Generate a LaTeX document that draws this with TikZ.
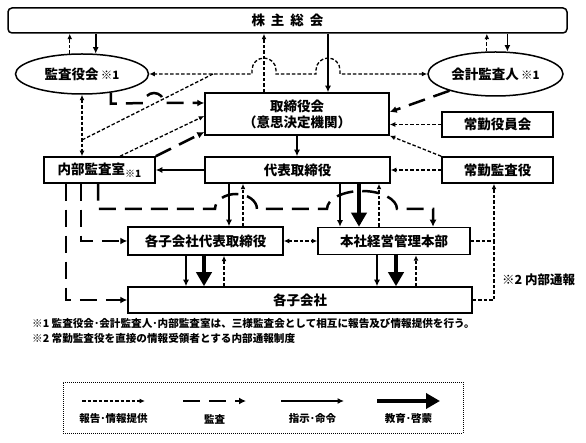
\documentclass[tikz,border=0pt]{standalone}
\usepackage{fontspec}
\setmainfont{Noto Sans CJK JP}
\usetikzlibrary{arrows.meta,shapes.geometric}

\tikzset{
  orgbox/.style={draw, line width=1.5pt, inner sep=0pt, font=\fontsize{13.5}{16}\selectfont\bfseries},
  orgoval/.style={ellipse, draw, line width=1.5pt, inner sep=0pt, font=\fontsize{13.5}{16}\selectfont\bfseries},
  reportline/.style={line width=1.3pt, dash pattern=on 3.5pt off 2pt, >={Latex[length=5.5pt,width=5pt]}, ->},
  auditline/.style={line width=2.5pt, dash pattern=on 17pt off 9pt, >={Latex[length=7pt,width=7pt]}, ->},
  orderline/.style={line width=1.6pt, >={Latex[length=6.5pt,width=6pt]}, ->},
  eduline/.style={line width=4.8pt, >={Triangle[length=14pt,width=15pt]}, ->},
  notetext/.style={anchor=west, inner sep=0pt, font=\fontsize{10.6}{12}\selectfont\bfseries}
}

\begin{document}
\begin{tikzpicture}[x=1pt,y=-1pt]
  \useasboundingbox (0,0) rectangle (586,443);

  % organisation
  \node[orgbox, rounded corners=4pt, minimum width=559pt, minimum height=25pt] (sh) at (287.5,20.5)
    {株\hspace{6pt}主\hspace{6pt}総\hspace{6pt}会};
  \node[orgoval, minimum width=133pt, minimum height=40pt] (kansa) at (82,74)
    {監査役会\,{\fontsize{11.5}{11}\selectfont ※1}};
  \node[orgoval, minimum width=135pt, minimum height=44pt] (kaikei) at (495.5,74)
    {会計監査人\,{\fontsize{11.5}{11}\selectfont ※1}};
  \node[orgbox, align=center, minimum width=184pt, minimum height=42pt] (tori) at (297,114)
    {取締役会\\（意思決定機関）};
  \node[orgbox, minimum width=111pt, minimum height=25pt] (joueki) at (497.5,124.5) {常勤役員会};
  \node[orgbox, minimum width=111pt, minimum height=26pt] (naibu) at (99.5,170)
    {内部監査室{\fontsize{10}{10}\selectfont\raisebox{-3pt}{※1}}};
  \node[orgbox, minimum width=185pt, minimum height=26pt] (daihyo) at (297.5,170) {代表取締役};
  \node[orgbox, minimum width=111pt, minimum height=26pt] (joukan) at (497.5,170) {常勤監査役};
  \node[orgbox, minimum width=155pt, minimum height=28pt] (kodai) at (205.5,241) {各子会社代表取締役};
  \node[orgbox, minimum width=152pt, minimum height=27pt] (honsha) at (394,241) {本社経営管理本部};
  \node[orgbox, minimum width=344pt, minimum height=26pt] (kogaisha) at (300,300) {各子会社};

  % shareholders
  \draw[reportline] (kansa.121) -- (kansa.121 |- sh.south);
  \draw[orderline] (kansa.56 |- sh.south) -- (kansa.56);
  \draw[reportline] (kaikei.111) -- (kaikei.111 |- sh.south);
  \draw[orderline] (kaikei.62 |- sh.south) -- (kaikei.62);
  \draw[reportline] (264,0 |- tori.north) -- (264,0 |- sh.south);
  \draw[orderline] (328,0 |- sh.south) -- (328,0 |- tori.north);

  % three-way audit
  \draw[reportline, <->] (kaikei.west) -- (340,74) -- ++(0,-4)
    arc[start angle=0, end angle=180, radius=12pt] -- ++(0,4) -- (276,74) -- ++(0,-4)
    arc[start angle=0, end angle=180, radius=12pt] -- ++(0,4) -- (kansa.east);
  \coordinate (j1) at (213,74);
  \coordinate (j2) at (kansa.south |- 0,140);
  \draw[reportline, -] (j1) -- (j2);
  \draw[reportline, <->] (kansa.south) -- (kansa.south |- naibu.north);

  % board
  \draw[auditline] (kansa.-33) -- ++(0,11) -- (144,103)
    arc[start angle=180, end angle=0, radius=10pt] -- (tori.west |- 0,103);
  \draw[reportline] (120,0 |- naibu.north) -- (tori.west |- 0,116);
  \draw[auditline] (naibu.north east) -- (tori.west |- 0,132);
  \draw[auditline] (kaikei.200) -- (tori.east |- 0,112);
  \draw[reportline] (joueki.west) -- (joueki.west -| tori.east);
  \draw[reportline] (joukan.north west) -- (tori.south east);
  \draw[reportline] (joukan.west) -- (daihyo.east);
  \draw[orderline] (297,0 |- tori.south) -- (297,0 |- daihyo.north);
  \draw[orderline] (daihyo.west) -- (naibu.east);

  % internal audit
  \draw[auditline] (98,0 |- naibu.south) -- (98,209) -- (215,209)
    arc[start angle=180, end angle=0, x radius=21pt, y radius=15pt] -- (327,209)
    arc[start angle=180, end angle=0, x radius=35pt, y radius=18pt] -- (433,209)
    -- (433,0 |- honsha.north);
  \draw[auditline] (81,0 |- naibu.south) |- (kodai.west);
  \draw[auditline] (66,0 |- naibu.south) |- (kogaisha.west);

  % group
  \draw[orderline] (229,0 |- daihyo.south) -- (229,0 |- kodai.north);
  \draw[reportline] (243,0 |- kodai.north) -- (243,0 |- daihyo.south);
  \draw[orderline] (340,0 |- daihyo.south) -- (340,0 |- honsha.north);
  \draw[eduline] (359,0 |- daihyo.south) -- (359,0 |- honsha.north);
  \draw[reportline] (379,0 |- honsha.north) -- (379,0 |- daihyo.south);
  \draw[reportline, <->] (kodai.east) -- (honsha.west);
  \draw[orderline] (186,0 |- kodai.south) -- (186,0 |- kogaisha.north);
  \draw[eduline] (204,0 |- kodai.south) -- (204,0 |- kogaisha.north);
  \draw[reportline] (224,0 |- kogaisha.north) -- (224,0 |- kodai.south);
  \draw[orderline] (377,0 |- honsha.south) -- (377,0 |- kogaisha.north);
  \draw[eduline] (396,0 |- honsha.south) -- (396,0 |- kogaisha.north);
  \draw[reportline] (416,0 |- kogaisha.north) -- (416,0 |- honsha.south);

  % whistleblowing
  \coordinate (tsuho) at (494,0 |- honsha.east);
  \draw[reportline] (honsha.east) -- (tsuho) -- (494,0 |- joukan.south);
  \draw[reportline, -] (kogaisha.east) -| (tsuho);
  \node[anchor=west, inner sep=0pt, font=\fontsize{12.5}{14}\selectfont\bfseries] (tsuholbl) at (502,280) {※2 内部通報};

  % notes
  \node[notetext] (note1) at (32,323) {※1 監査役会･会計監査人･内部監査室は、三様監査会として相互に報告及び情報提供を行う。};
  \node[notetext] (note2) at (32,338) {※2 常勤監査役を直接の情報受領者とする内部通報制度};

  % legend
  \node[draw, line width=0.8pt, dash pattern=on 1pt off 1pt, minimum width=400pt, minimum height=51pt] (legend) at (263,407.5) {};
  \foreach \xa/\st/\lbl [count=\i] in {82/reportline/報告･情報提供, 183/auditline/監査, 281/orderline/指示･命令, 377/eduline/教育･啓蒙}
    \draw[\st] (\xa,401) -- ++(63,0)
      node[midway, yshift=-18pt, font=\fontsize{10.5}{12}\selectfont\bfseries] (lbl\i) {\lbl};
\end{tikzpicture}
\end{document}
